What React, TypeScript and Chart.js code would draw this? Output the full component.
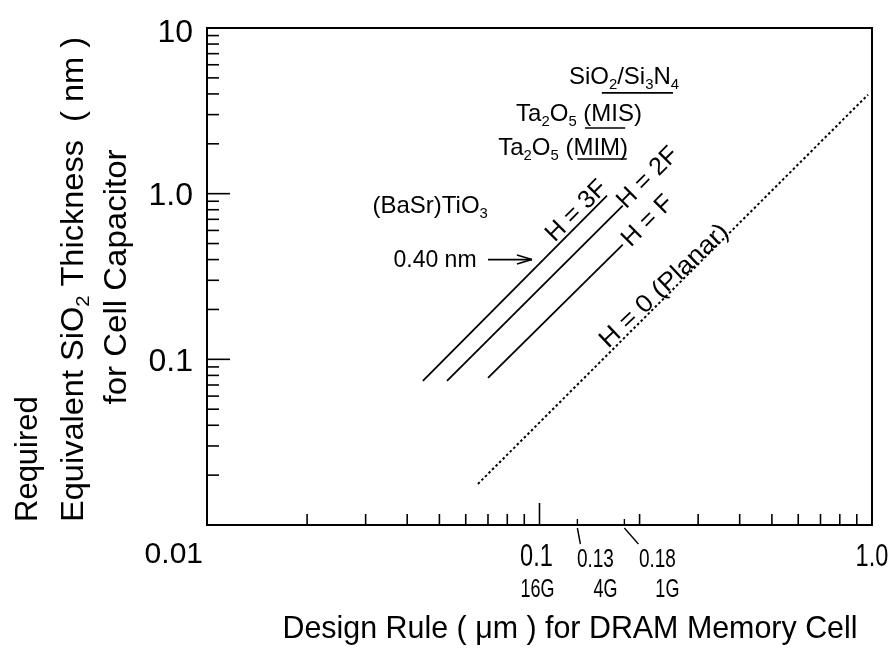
import React, { useEffect, useRef } from "react";
import { Chart, registerables } from "chart.js";

Chart.register(...registerables);

// ---------------- data ----------------
const seriesLabels = ["H = 3F", "H = 2F", "H = F", "H = 0 (Planar)"];
const h3fRule = [0.0446, 0.1596];
const h3fEot = [0.0741, 0.972];
const h2fRule = [0.0527, 0.178];
const h2fEot = [0.0741, 0.846];
const hfRule = [0.07, 0.178];
const hfEot = [0.0773, 0.492];
const planarRule = [0.0653, 0.973];
const planarEot = [0.0177, 3.96];

const dielectricLabels = ["SiO2/Si3N4", "Ta2O5 (MIS)", "Ta2O5 (MIM)", "(BaSr)TiO3"];
const dielectricEot = [4.06, 2.49, 1.62, 0.4];
const markerRuleFrom = [0.154, 0.137, 0.13];
const markerRuleTo = [0.252, 0.181, 0.183];
const bstLabel = "0.40 nm";
const bstArrowRule = [0.07, 0.0949];

const yTickValues = [10, 1, 0.1];
const yTickLabels = ["10", "1.0", "0.1"];
const xTickValues = [0.01, 0.1, 1];
const xTickLabels = ["0.01", "0.1", "1.0"];
const nodeRules = [0.13, 0.18];
const nodeLabels = ["0.13", "0.18"];
const dramLabels = ["16G", "4G", "1G"];
const xTitle = "Design Rule ( \u03bcm ) for DRAM Memory Cell";
const yTitleLines = ["Required", "Equivalent SiO2 Thickness  ( nm )", "for Cell Capacitor"];

// ---------------- layout (annotation anchors, in data units) ----------------
const materialAnchors = [
  { x: 0.1795, y: 5.16 },
  { x: 0.1315, y: 3.08 },
  { x: 0.1178, y: 1.92 },
  { x: 0.0469, y: 0.858 },
];
const seriesLabelAnchors = [
  { x: 0.128, y: 0.8 },
  { x: 0.2096, y: 1.27 },
  { x: 0.2096, y: 0.697 },
  { x: 0.235, y: 0.282 },
];
const bstLabelAnchor = { x: 0.0485, y: 0.4 };

const FONT = '"Liberation Sans", Arial, Helvetica, sans-serif';
const INK = "#000";

type Seg = { t: string; sub: boolean };

function parseChem(s: string): Seg[] {
  const out: Seg[] = [];
  for (let i = 0; i < s.length; i++) {
    const ch = s[i];
    const sub = /[0-9]/.test(ch) && i > 0 && /[A-Za-z]/.test(s[i - 1]);
    const last = out[out.length - 1];
    if (last && last.sub === sub) last.t += ch;
    else out.push({ t: ch, sub });
  }
  return out;
}

type TextOpt = {
  size: number;
  align?: "left" | "center" | "right";
  angle?: number;
  sx?: number;
  width?: number;
  chem?: boolean;
};

function drawText(ctx: CanvasRenderingContext2D, text: string, x: number, y: number, o: TextOpt) {
  const segs = o.chem ? parseChem(text) : [{ t: text, sub: false }];
  const subSize = o.size * 0.62;
  const fontOf = (s: Seg) => `${s.sub ? subSize : o.size}px ${FONT}`;
  let w = 0;
  const ws = segs.map((s) => {
    ctx.font = fontOf(s);
    const m = ctx.measureText(s.t).width;
    w += m;
    return m;
  });
  let sx = o.sx ?? 1;
  if (o.width) sx = o.width / w;
  ctx.save();
  ctx.translate(x, y);
  if (o.angle) ctx.rotate(o.angle);
  ctx.scale(sx, 1);
  let cx = o.align === "left" ? 0 : o.align === "right" ? -w : -w / 2;
  const base = o.size * 0.358;
  ctx.textAlign = "left";
  ctx.textBaseline = "alphabetic";
  ctx.fillStyle = INK;
  segs.forEach((s, i) => {
    ctx.font = fontOf(s);
    ctx.fillText(s.t, cx, base + (s.sub ? o.size * 0.2 : 0));
    cx += ws[i];
  });
  ctx.restore();
}

export default function App() {
  const ref = useRef<HTMLCanvasElement>(null);

  useEffect(() => {
    const canvas = ref.current;
    if (!canvas) return;
    const pts = (xs: number[], ys: number[]) => xs.map((x, i) => ({ x, y: ys[i] }));
    const lineDs = (label: string, data: { x: number; y: number }[], dash?: number[], width = 1.8) => ({
      label,
      data,
      showLine: true,
      borderColor: INK,
      backgroundColor: INK,
      borderWidth: width,
      borderDash: dash || [],
      pointRadius: 0,
      fill: false,
      tension: 0,
    });

    const datasets = [
      lineDs(seriesLabels[0], pts(h3fRule, h3fEot)),
      lineDs(seriesLabels[1], pts(h2fRule, h2fEot)),
      lineDs(seriesLabels[2], pts(hfRule, hfEot)),
      lineDs(seriesLabels[3], pts(planarRule, planarEot), [2.5, 2.5], 2),
      ...markerRuleFrom.map((f, i) =>
        lineDs(dielectricLabels[i] + " level", [
          { x: f, y: dielectricEot[i] },
          { x: markerRuleTo[i], y: dielectricEot[i] },
        ], undefined, 1.6)
      ),
    ];

    const decor = {
      id: "decor",
      afterDraw(chart: any) {
        const { ctx, chartArea: a, scales } = chart;
        const xs = scales.x;
        const ys = scales.y;
        const line = (x1: number, y1: number, x2: number, y2: number) => {
          ctx.beginPath();
          ctx.moveTo(x1, y1);
          ctx.lineTo(x2, y2);
          ctx.stroke();
        };
        ctx.save();
        ctx.strokeStyle = INK;
        ctx.lineWidth = 2;
        ctx.strokeRect(a.left, a.top, a.right - a.left, a.bottom - a.top);

        // ticks, pointing inward
        ctx.lineWidth = 1.6;
        for (const d of [0.01, 0.1, 1]) {
          for (let k = 2; k <= 9; k++) {
            const py = ys.getPixelForValue(d * k);
            line(a.left, py, a.left + 12, py);
          }
        }
        for (const v of [0.1, 1]) {
          const py = ys.getPixelForValue(v);
          line(a.left, py, a.left + 23, py);
        }
        for (const d of [0.01, 0.1]) {
          for (let k = 2; k <= 9; k++) {
            const px = xs.getPixelForValue(d * k);
            line(px, a.bottom, px, a.bottom - 11);
          }
        }
        {
          const px = xs.getPixelForValue(0.1);
          line(px, a.bottom, px, a.bottom - 22);
        }
        // node markers with leader lines
        const leaderDx = [3, 14];
        const labelDx = [18, 33];
        nodeRules.forEach((r, i) => {
          const px = xs.getPixelForValue(r);
          ctx.lineWidth = 1.4;
          line(px, a.bottom, px, a.bottom - 6);
          line(px, a.bottom + 3, px + leaderDx[i], a.bottom + 19);
          drawText(ctx, nodeLabels[i], px + labelDx[i], a.bottom + 33, { size: 25, sx: 0.76 });
        });

        // y tick labels
        yTickValues.forEach((v, i) => {
          const py = Math.max(ys.getPixelForValue(v), a.top + 3);
          drawText(ctx, yTickLabels[i], a.left - 14, py, { size: 32, align: "right" });
        });
        // x tick labels
        xTickValues.forEach((v, i) => {
          const px = xs.getPixelForValue(v);
          if (i === 0) drawText(ctx, xTickLabels[i], a.left - 4, a.bottom + 27, { size: 30, align: "right" });
          else drawText(ctx, xTickLabels[i], px - (i === 1 ? 3 : 0), a.bottom + 30, { size: 31, sx: 0.76 });
        });
        // DRAM generation labels
        const dramPx = [xs.getPixelForValue(0.1) - 2, xs.getPixelForValue(nodeRules[0]) + 28, xs.getPixelForValue(nodeRules[1]) + 43];
        dramLabels.forEach((t, i) => drawText(ctx, t, dramPx[i], a.bottom + 63, { size: 25, sx: 0.72 }));

        // axis titles
        drawText(ctx, xTitle, 570, 627, { size: 32, width: 575 });
        drawText(ctx, yTitleLines[0], 26, a.bottom - 3, { size: 31, align: "left", angle: -Math.PI / 2 });
        drawText(ctx, yTitleLines[1], 72, a.bottom - 3, { size: 31, align: "left", angle: -Math.PI / 2, chem: true, width: 485 });
        drawText(ctx, yTitleLines[2], 115, 277, { size: 31, angle: -Math.PI / 2, width: 255 });

        // dielectric labels
        dielectricLabels.forEach((t, i) => {
          const p = materialAnchors[i];
          drawText(ctx, t, xs.getPixelForValue(p.x), ys.getPixelForValue(p.y), { size: 24, chem: true });
        });
        // 0.40 nm label and arrow
        drawText(ctx, bstLabel, xs.getPixelForValue(bstLabelAnchor.x), ys.getPixelForValue(bstLabelAnchor.y) - 1, { size: 23 });
        {
          const py = ys.getPixelForValue(dielectricEot[3]);
          const x1 = xs.getPixelForValue(bstArrowRule[0]);
          const x2 = xs.getPixelForValue(bstArrowRule[1]);
          ctx.lineWidth = 1.6;
          line(x1, py, x2, py);
          line(x2, py, x2 - 15, py - 4.5);
          line(x2, py, x2 - 15, py + 4.5);
        }
        // series labels along lines
        seriesLabels.forEach((t, i) => {
          const p = seriesLabelAnchors[i];
          drawText(ctx, t, xs.getPixelForValue(p.x), ys.getPixelForValue(p.y), {
            size: 25,
            angle: i === 3 ? -0.76 : -Math.PI / 4,
            width: i === 3 ? 168 : undefined,
          });
        });
        ctx.restore();
      },
    };

    const chart = new Chart(canvas, {
      type: "scatter",
      data: { datasets: datasets as any },
      options: {
        animation: false,
        responsive: false,
        devicePixelRatio: 1,
        layout: { padding: { left: 207, right: 21, top: 28, bottom: 124 } },
        plugins: { legend: { display: false }, tooltip: { enabled: false } },
        scales: {
          x: { type: "logarithmic", min: 0.01, max: 1, display: false },
          y: { type: "logarithmic", min: 0.01, max: 10, display: false },
        },
      },
      plugins: [decor],
    });
    return () => chart.destroy();
  }, []);

  return (
    <div style={{ position: "absolute", left: 0, top: 0, width: 893, height: 649, background: "#fff" }}>
      <canvas ref={ref} width={893} height={649} style={{ width: 893, height: 649, display: "block" }} />
    </div>
  );
}
